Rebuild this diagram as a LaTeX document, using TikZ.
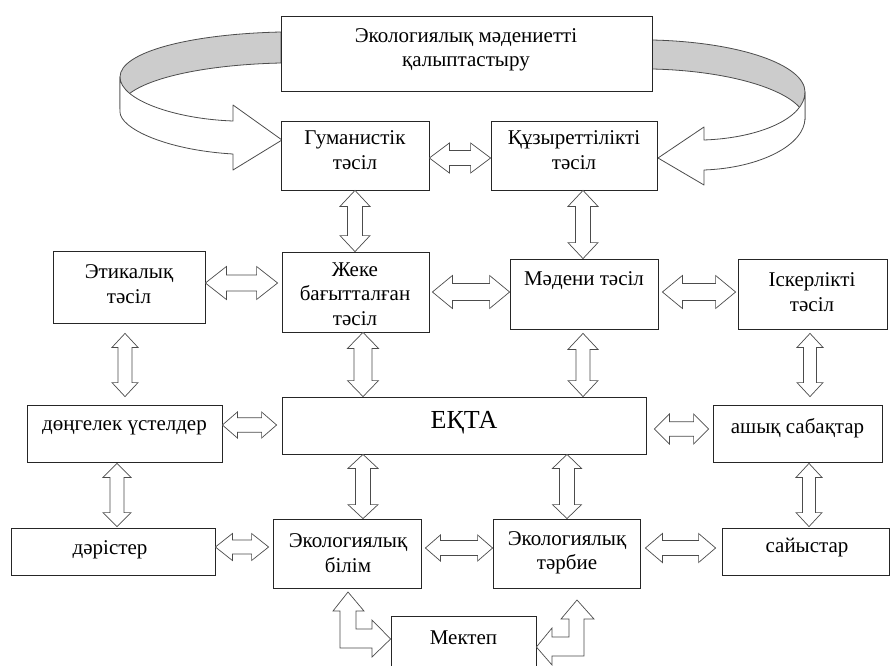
\documentclass[tikz,border=0pt]{standalone}
\usepackage{fontspec}
\setmainfont{Liberation Serif}
\usetikzlibrary{fit,calc}
\tikzset{
  box/.style={draw=black!85, line width=0.8pt, fill=white, inner sep=0pt},
  lbl/.style={font=\fontsize{21}{24.5}\selectfont, align=center, inner sep=0pt},
  big/.style={font=\fontsize{26}{29}\selectfont, inner sep=0pt},
  arr/.style={draw=black!70, line width=0.7pt, fill=white, line join=miter},
  band/.style={draw=black!70, line width=0.8pt, line join=round},
}
\newcommand\mkbox[5]{\node[box, fit={(#2,#3) (#4,#5)}] (#1) {};}
% horizontal double block arrow: #1 left tip, #2 right tip, #3 half head, #4 half shaft, #5 head length
\newcommand\hdbl[5]{\draw[arr] let \p1=(#1), \p2=(#2) in
  (\x1,\y1) -- (\x1+#5,\y1+#3) -- (\x1+#5,\y1+#4) -- (\x2-#5,\y1+#4) -- (\x2-#5,\y1+#3) --
  (\x2,\y1) -- (\x2-#5,\y1-#3) -- (\x2-#5,\y1-#4) -- (\x1+#5,\y1-#4) -- (\x1+#5,\y1-#3) -- cycle;}
% vertical double block arrow: #1 top tip, #2 bottom tip
\newcommand\vdbl[5]{\draw[arr] let \p1=(#1), \p2=(#2) in
  (\x1,\y1) -- (\x1+#3,\y1-#5) -- (\x1+#4,\y1-#5) -- (\x1+#4,\y2+#5) -- (\x1+#3,\y2+#5) --
  (\x1,\y2) -- (\x1-#3,\y2+#5) -- (\x1-#4,\y2+#5) -- (\x1-#4,\y1-#5) -- (\x1-#3,\y1-#5) -- cycle;}
\begin{document}
\begin{tikzpicture}[x=1pt,y=-1pt]
\clip (0,0) rectangle (891,666);
\fill[white] (0,0) rectangle (891,666);

% curved ribbon arrows
\draw[band, fill=black!20] (281,32) .. controls (190,34) and (120,52) .. (120,77) -- (120,109)
   .. controls (120,84) and (190,65) .. (281,63) -- cycle;
\draw[band, fill=white] (120,77) .. controls (120,100) and (175,119) .. (233,121) -- (233,105)
   -- (282,140) -- (233,170) -- (233,154) .. controls (165,150) and (120,128) .. (120,112) -- cycle;
\draw[band, fill=black!20] (652,40) .. controls (740,42) and (805,65) .. (805,92) -- (805,120)
   .. controls (805,95) and (740,71) .. (652,69) -- cycle;
\draw[band, fill=white] (805,92) .. controls (805,118) and (760,138) .. (704,140) -- (704,127)
   -- (658,158) -- (704,185) -- (704,170) .. controls (760,168) and (805,145) .. (805,118) -- cycle;

% boxes
\mkbox{top}{281}{16}{652}{91}
\mkbox{gum}{281}{121}{429}{190}
\mkbox{kuz}{491}{121}{657}{190}
\mkbox{etik}{53}{251}{205}{323}
\mkbox{zheke}{282}{252}{429}{332}
\mkbox{madeni}{510}{259}{658}{329}
\mkbox{isker}{738}{259}{887}{329}
\mkbox{dong}{27}{405}{222}{462}
\mkbox{ekta}{282}{397}{646}{454}
\mkbox{ashyk}{713}{405}{882}{462}
\mkbox{daris}{11}{528}{215}{575}
\mkbox{bilim}{273}{519}{421}{588}
\mkbox{tarbie}{493}{519}{640}{588}
\mkbox{saiys}{722}{528}{889.5}{575}
\mkbox{mektep}{391}{616}{536}{680}

% texts
\node[lbl] (t-top) at (466,50) {Экологиялық мәдениетті\\қалыптастыру};
\node[lbl] (t-gum) at (355,150) {Гуманистік\\тәсіл};
\node[lbl] (t-kuz) at (574,150) {Құзыреттілікті\\тәсіл};
\node[lbl] (t-etik) at (129,284) {Этикалық\\тәсіл};
\node[lbl] (t-zheke) at (355,294) {Жеке\\бағытталған\\тәсіл};
\node[lbl] (t-madeni) at (584,281) {Мәдени тәсіл};
\node[lbl] (t-isker) at (812,292) {Іскерлікті\\тәсіл};
\node[lbl] (t-dong) at (124.5,428) {дөңгелек үстелдер};
\node[big] (t-ekta) at (464,423) {ЕҚТА};
\node[lbl] (t-ashyk) at (797.5,428) {ашық сабақтар};
\node[lbl] (t-daris) at (110,550) {дәрістер};
\node[lbl] (t-bilim) at (348,553) {Экологиялық\\білім};
\node[lbl] (t-tarbie) at (567,553) {Экологиялық\\тәрбие};
\node[lbl] (t-saiys) at (807,548) {сайыстар};
\node[lbl] (t-mektep) at (463.5,638) {Мектеп};

% horizontal double arrows
\hdbl{gum.east |- 0,158}{kuz.west |- 0,158}{15pt}{7.5pt}{20pt}
\hdbl{etik.east |- 0,283}{$(zheke.west |- 0,283)+(-4,0)$}{16.5pt}{8pt}{21pt}
\hdbl{$(zheke.east |- 0,292)+(3,0)$}{madeni.west |- 0,292}{16.5pt}{8.5pt}{20pt}
\hdbl{$(madeni.east |- 0,292)+(4,0)$}{$(isker.west |- 0,292)+(-2,0)$}{16.5pt}{8.5pt}{20pt}
\hdbl{dong.east |- 0,425}{$(ekta.west |- 0,425)+(-5,0)$}{13pt}{7.25pt}{15pt}
\hdbl{$(ekta.east |- 0,429)+(8,0)$}{$(ashyk.west |- 0,429)+(-4,0)$}{15pt}{7.25pt}{15pt}
\hdbl{daris.east |- 0,547}{$(bilim.west |- 0,547)+(-4,0)$}{13.5pt}{7pt}{17pt}
\hdbl{$(bilim.east |- 0,548)+(4,0)$}{tarbie.west |- 0,548}{13pt}{7.5pt}{15pt}
\hdbl{$(tarbie.east |- 0,548)+(5,0)$}{$(saiys.west |- 0,548)+(-6,0)$}{14.5pt}{7.5pt}{17pt}

% vertical double arrows
\vdbl{355,0 |- gum.south}{355,0 |- zheke.north}{15pt}{7.5pt}{16pt}
\vdbl{583,0 |- kuz.south}{583,0 |- madeni.north}{15pt}{7.5pt}{16pt}
\vdbl{$(125,0 |- etik.south)+(0,10)$}{$(125,0 |- dong.north)+(0,-8)$}{13pt}{7pt}{14pt}
\vdbl{363,0 |- zheke.south}{363,0 |- ekta.north}{15.5pt}{9pt}{16pt}
\vdbl{$(583,0 |- madeni.south)+(0,4)$}{583,0 |- ekta.north}{15pt}{7pt}{16pt}
\vdbl{$(810,0 |- isker.south)+(0,4)$}{$(810,0 |- ashyk.north)+(0,-8)$}{13pt}{6.5pt}{14pt}
\vdbl{$(117,0 |- dong.south)+(0,1)$}{$(117,0 |- daris.north)+(0,-1)$}{14pt}{7pt}{14pt}
\vdbl{363,0 |- ekta.south}{363,0 |- bilim.north}{15pt}{7.5pt}{14pt}
\vdbl{567,0 |- ekta.south}{567,0 |- tarbie.north}{14.5pt}{7.5pt}{14pt}
\vdbl{$(809,0 |- ashyk.south)+(0,1)$}{$(809,0 |- saiys.north)+(0,-1)$}{13pt}{6.5pt}{14pt}

% bent arrows to Mektep
\draw[arr] (348,592) -- (364,611) -- (356,611) -- (356,629) -- (372,629) -- (372,620)
  -- (mektep.west |- 0,639) -- (372,657) -- (372,648) -- (340,648) -- (340,611) -- (333,611) -- cycle;
\draw[arr] (mektep.east |- 0,647) -- (552,628) -- (552,637) -- (569,637) -- (569,619) -- (561,619)
  -- (577,600) -- (594,619) -- (584,619) -- (584,656) -- (552,656) -- (552,665) -- cycle;
\end{tikzpicture}
\end{document}
